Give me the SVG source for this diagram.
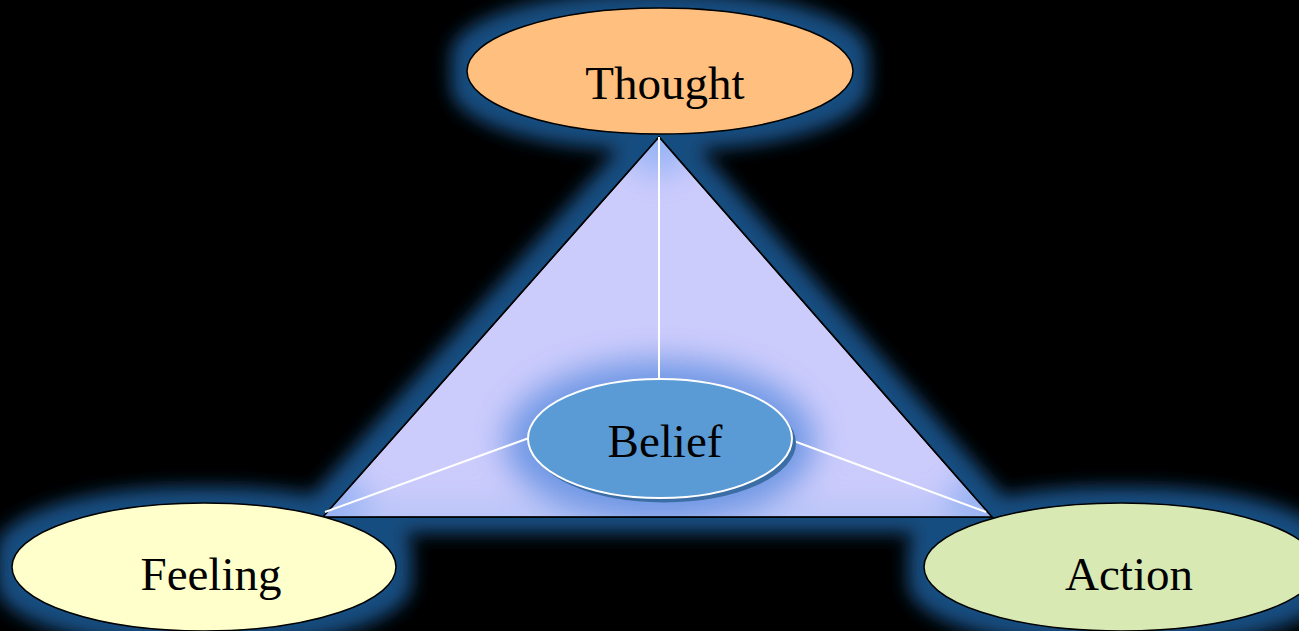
<svg xmlns="http://www.w3.org/2000/svg" width="1299" height="631" viewBox="0 0 1299 631">
<defs>
<filter id="glow" x="-20%" y="-20%" width="140%" height="140%">
<feMorphology in="SourceAlpha" operator="dilate" radius="16" result="d"/>
<feGaussianBlur in="d" stdDeviation="9" result="b"/>
<feFlood flood-color="#174d80"/>
<feComposite in2="b" operator="in"/>
</filter>
<filter id="soft" x="-50%" y="-50%" width="200%" height="200%">
<feGaussianBlur stdDeviation="16"/>
</filter>
<clipPath id="tri"><polygon points="659,137 323,517 992,517"/></clipPath>
<style>
.node{stroke:#000;stroke-width:1.5}
.lbl{font-family:"Liberation Serif","Times New Roman",serif;font-size:47px;fill:#000;text-anchor:middle}
.conn{stroke:#fff;stroke-width:2;fill:none}
</style>
</defs>
<rect width="1299" height="631" fill="#000"/>
<g id="glow-layer" filter="url(#glow)">
<ellipse cx="660" cy="71" rx="193" ry="63"/>
<polygon points="659,137 323,517 992,517"/>
<ellipse cx="204" cy="567" rx="192" ry="64"/>
<ellipse cx="1121" cy="567" rx="197" ry="64"/>
</g>
<g id="triangle">
<polygon points="659,137 323,517 992,517" fill="#ccccfc" stroke="#000" stroke-width="1.5"/>
<g clip-path="url(#tri)" filter="url(#soft)" opacity="0.85">
<circle cx="659" cy="140" r="35" fill="#90b0f4"/>
<circle cx="330" cy="515" r="40" fill="#7ea4ef"/>
<circle cx="985" cy="515" r="40" fill="#7ea4ef"/>
<rect x="320" y="507" width="680" height="20" fill="#a8bff4"/>
<ellipse cx="660" cy="442" rx="155" ry="82" fill="#5f8ee0"/>
</g>
<polygon points="659,137 323,517 992,517" fill="none" stroke="#000" stroke-width="1.5"/>
</g>
<g id="connectors">
<line class="conn" x1="659" y1="137" x2="659" y2="380"/>
<line class="conn" x1="325" y1="512" x2="529" y2="438"/>
<line class="conn" x1="791" y1="440" x2="986" y2="512"/>
</g>
<g id="thought">
<ellipse class="node" cx="660" cy="71" rx="193" ry="63" fill="#ffbf7f"/>
<text class="lbl" x="665" y="99">Thought</text>
</g>
<g id="belief">
<ellipse cx="664" cy="443" rx="132" ry="59.5" fill="#3b6ea5"/>
<ellipse cx="660" cy="438.5" rx="132" ry="59.5" fill="#5b9bd5" stroke="#fff" stroke-width="2"/>
<text class="lbl" x="665" y="457">Belief</text>
</g>
<g id="feeling">
<ellipse class="node" cx="204" cy="567" rx="192" ry="64" fill="#ffffcc"/>
<text class="lbl" x="211" y="590">Feeling</text>
</g>
<g id="action">
<ellipse class="node" cx="1121" cy="567" rx="197" ry="64" fill="#d8e9b3"/>
<text class="lbl" x="1129" y="590">Action</text>
</g>
</svg>
